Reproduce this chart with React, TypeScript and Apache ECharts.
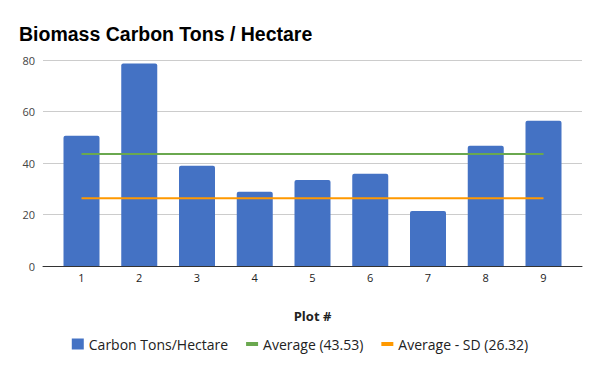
import React, { useEffect, useRef } from "react";
import * as echarts from "echarts";

const plots = [1, 2, 3, 4, 5, 6, 7, 8, 9];
const carbon = [50.6, 78.6, 38.9, 28.8, 33.4, 35.8, 21.4, 46.7, 56.4];
const average = 43.53;
const averageMinusSD = 26.32;
const yTicks = [0, 20, 40, 60, 80];

const FONT = "'Open Sans', 'Noto Sans', sans-serif";

export default function App() {
  const ref = useRef<HTMLDivElement>(null);
  useEffect(() => {
    if (!ref.current) return;
    const chart = echarts.init(ref.current, null, { renderer: "svg" });
    const first = plots[0];
    const last = plots[plots.length - 1];
    chart.setOption({
      animation: false,
      backgroundColor: "#ffffff",
      title: {
        text: "Biomass Carbon Tons / Hectare",
        left: 14,
        top: 19,
        textStyle: {
          fontFamily: "'Liberation Sans', Arial, sans-serif",
          fontWeight: "bold",
          fontSize: 19.5,
          color: "#000000",
        },
      },
      legend: {
        bottom: 15,
        left: "center",
        itemWidth: 12,
        itemHeight: 11,
        itemGap: 18,
        itemTextGap: 8,
        textStyle: { fontFamily: FONT, fontSize: 14, color: "#222222" },
        data: [
          { name: "Carbon Tons/Hectare", icon: "rect" },
          { name: "Average (43.53)", icon: "path://M0,0h12v4h-12z" },
          { name: "Average - SD (26.32)", icon: "path://M0,0h12v4h-12z" },
        ],
      },
      grid: { left: 43, right: 18, top: 60, bottom: 105, containLabel: false },
      xAxis: {
        type: "value",
        min: first - 2 / 3,
        max: last + 2 / 3,
        name: "Plot #",
        nameLocation: "middle",
        nameGap: 43,
        nameTextStyle: { fontFamily: FONT, fontWeight: "bold", fontSize: 13, color: "#222222" },
        axisLine: { show: true, lineStyle: { color: "#333333", width: 1 } },
        axisTick: { show: false },
        splitLine: { show: false },
        axisLabel: {
          customValues: plots,
          formatter: (v: number) => String(Math.round(v)),
          fontFamily: FONT,
          fontSize: 11,
          color: "#222222",
          margin: 6,
        },
      },
      yAxis: {
        type: "value",
        min: 0,
        max: yTicks[yTicks.length - 1],
        interval: 20,
        axisLine: { show: false },
        axisTick: { show: false },
        splitLine: { lineStyle: { color: "#cccccc", width: 1 } },
        axisLabel: { fontFamily: FONT, fontSize: 11, color: "#444444", margin: 8 },
      },
      series: [
        {
          name: "Carbon Tons/Hectare",
          type: "bar",
          barWidth: 36,
          data: plots.map((p, i) => [p, carbon[i]]),
          itemStyle: { color: "#4472c4", borderRadius: [2, 2, 0, 0] },
        },
        {
          name: "Average (43.53)",
          type: "line",
          symbol: "none",
          data: [[first, average], [last, average]],
          lineStyle: { color: "#6aa84f", width: 2 },
          itemStyle: { color: "#6aa84f" },
        },
        {
          name: "Average - SD (26.32)",
          type: "line",
          symbol: "none",
          data: [[first, averageMinusSD], [last, averageMinusSD]],
          lineStyle: { color: "#ff9900", width: 2 },
          itemStyle: { color: "#ff9900" },
        },
      ],
    });
    return () => chart.dispose();
  }, []);
  return <div ref={ref} style={{ width: 600, height: 371, position: "absolute", left: 0, top: 0 }} />;
}
